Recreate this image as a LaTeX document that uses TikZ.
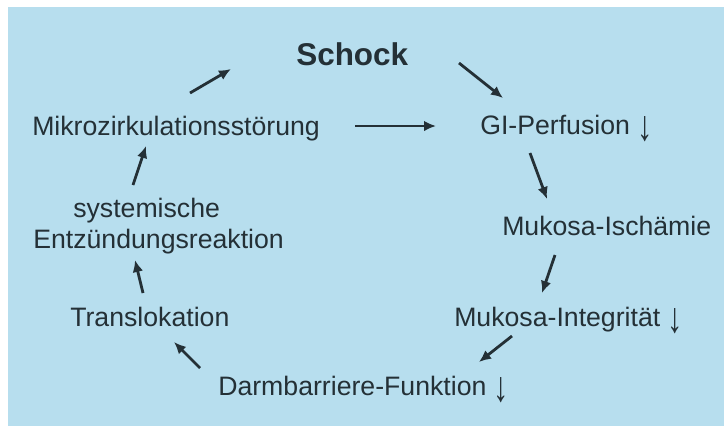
\documentclass[tikz,border=0pt]{standalone}
\usepackage{fontspec}
\setmainfont{Liberation Sans}
\usetikzlibrary{arrows.meta}
\definecolor{bgblue}{RGB}{183,222,238}
\definecolor{ink}{RGB}{36,48,54}
\newcommand{\dnarrow}{\raisebox{-4.5pt}{\scalebox{1.15}[1.6]{\bfseries ↓}}}
\begin{document}
\begin{tikzpicture}[x=0.75pt,y=-0.75pt,
  lbl/.style={anchor=base west,inner sep=0pt,text=ink,font=\fontsize{20}{26}\selectfont},
  ttl/.style={anchor=base west,inner sep=0pt,text=ink,font=\fontsize{23.6}{28}\selectfont\bfseries},
  conn/.style={draw=ink,line width=2.1pt,-{Latex[length=9pt,width=8pt]}}]
\useasboundingbox (0,0) rectangle (724,426);
\fill[white] (0,0) rectangle (724,426);
\fill[bgblue] (8,7) rectangle (724,426);
% nodes
\node[ttl] (schock) at (296,65) {Schock};
\node[lbl] (mikro) at (32,135) {Mikrozirkulationsstörung};
\node[lbl] (gi) at (480,134) {GI-Perfusion \dnarrow};
\node[lbl] (isch) at (502,235) {Mukosa-Ischämie};
\node[lbl] (integ) at (454,326) {Mukosa-Integrität \dnarrow};
\node[lbl] (darm) at (218,395) {Darmbarriere-Funktion \dnarrow};
\node[lbl] (trans) at (70,326) {Translokation};
\node[lbl] (sys) at (73,217) {systemische};
\node[lbl] (entz) at (33,248) {Entzündungsreaktion};
% arrow end points
\coordinate (a1s) at (190,93);  \coordinate (a1e) at (231,69);
\coordinate (a2s) at (459,63);  \coordinate (a2e) at (503,98);
\coordinate (a3s) at (355,126); \coordinate (a3e) at (436,126);
\coordinate (a4s) at (530,153); \coordinate (a4e) at (547,199);
\coordinate (a5s) at (555,255); \coordinate (a5e) at (542,293);
\coordinate (a6s) at (512,336); \coordinate (a6e) at (479,362);
\coordinate (a7s) at (200,368); \coordinate (a7e) at (174,342);
\coordinate (a8s) at (143,293); \coordinate (a8e) at (135,260);
\coordinate (a9s) at (133,185); \coordinate (a9e) at (146,146);
\draw[conn] (a1s) -- (a1e);
\draw[conn] (a2s) -- (a2e);
\draw[conn] (a3s) -- (a3e);
\draw[conn] (a4s) -- (a4e);
\draw[conn] (a5s) -- (a5e);
\draw[conn] (a6s) -- (a6e);
\draw[conn] (a7s) -- (a7e);
\draw[conn] (a8s) -- (a8e);
\draw[conn] (a9s) -- (a9e);
\end{tikzpicture}
\end{document}
